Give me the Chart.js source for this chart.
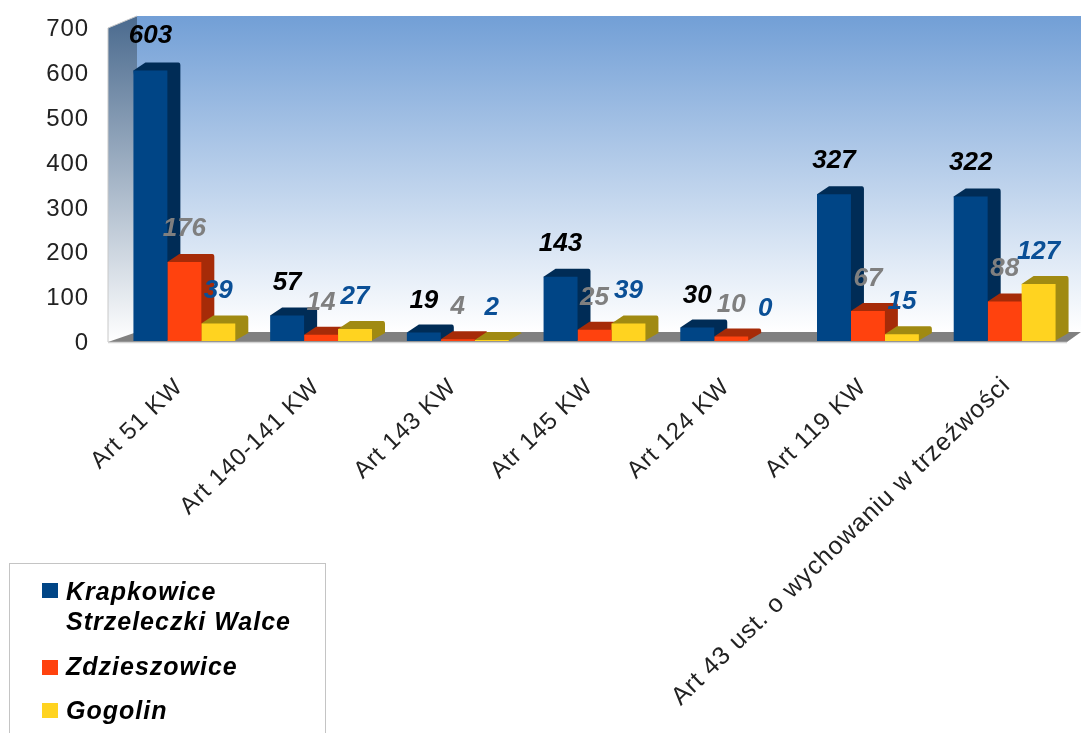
<!DOCTYPE html>
<html><head><meta charset="utf-8">
<style>html,body{margin:0;padding:0;background:#fff;overflow:hidden}canvas{display:block;filter:blur(0.45px)}</style>
<script src="https://cdn.jsdelivr.net/npm/chart.js@4"></script>
</head><body><canvas id="c" width="1081" height="733"></canvas>
<script>
const categories = ['Art 51 KW','Art 140-141 KW','Art 143 KW','Atr 145 KW','Art 124 KW','Art 119 KW','Art 43 ust. o wychowaniu w trzeźwości'];
const krapkowice = [603,57,19,143,30,327,322];
const zdzieszowice = [176,14,4,25,10,67,88];
const gogolin = [39,27,2,39,0,15,127];
const seriesNames = ['Krapkowice Strzeleczki Walce','Zdzieszowice','Gogolin'];
const legendLines = [['Krapkowice','Strzeleczki Walce'],['Zdzieszowice'],['Gogolin']];
const frontColors = ['#004586','#ff420e','#ffd320'];
const sideColors = ['#002c56','#a62b08','#a08a12'];
const labelColors = ['#000000','#7f7f7f','#0a4f96'];
const DX = 14, DY = 8;

const scene = {
  id:'scene',
  afterLayout(chart){
    const y = chart.scales.y;
    y.top = 27; y.bottom = 341; y.height = 314; y.configure();
    chart.chartArea.top = 27; chart.chartArea.height = 314;
  },
  beforeDraw(chart){
    chart.ctx.letterSpacing='0.9px';
    if(!chart.$moved){
      chart.$moved = true;
      const it = chart.scales.x.getLabelItems(chart.chartArea);
      it[6].options.translation[0] += 7;
      it[6].options.translation[1] -= 2;
      chart.scales.y.getLabelItems(chart.chartArea).forEach(t=>{ t.options.translation[1] += 2.5; });
    }
  },
  beforeDatasetsDraw(chart){
    const c = chart.ctx, a = chart.chartArea;
    const fl = 108, fr = 1067, fb = a.bottom + 1, bl = 137, br = 1081, bb = a.bottom - 9, bt = 16;
    c.save();
    let g = c.createLinearGradient(0,bt,0,bb);
    g.addColorStop(0,'#729fd6'); g.addColorStop(1,'#ffffff');
    c.fillStyle = g; c.fillRect(bl,bt,br-bl,bb-bt);
    g = c.createLinearGradient(0,bt,0,fb);
    g.addColorStop(0,'#4a6a8e'); g.addColorStop(1,'#ffffff');
    c.fillStyle = g;
    c.beginPath(); c.moveTo(fl,bt+12); c.lineTo(bl,bt); c.lineTo(bl,bb); c.lineTo(fl,fb); c.closePath(); c.fill();
    c.strokeStyle='#c8c8c8'; c.lineWidth=1;
    c.beginPath(); c.moveTo(fl,fb); c.lineTo(fl,bt+12); c.lineTo(bl,bt); c.stroke();
    c.fillStyle='#808080';
    c.beginPath(); c.moveTo(fl,fb); c.lineTo(bl,bb); c.lineTo(br,bb); c.lineTo(fr,fb); c.closePath(); c.fill();
    c.strokeStyle='#d4d4d4'; c.lineWidth=1.5;
    c.beginPath(); c.moveTo(fl,fb+.5); c.lineTo(fr,fb+.5); c.stroke();
    // depth faces of each bar, taken from the library's bar elements
    chart.data.datasets.forEach((ds,i)=>{
      chart.getDatasetMeta(i).data.forEach((bar,j)=>{
        if(ds.data[j]===0) return;
        const l = bar.x - bar.width/2, r = bar.x + bar.width/2 - 1, t = bar.y, b = bar.base;
        c.fillStyle = sideColors[i];
        c.beginPath();
        c.moveTo(l,t); c.lineTo(l+DX-2,t-DY); c.lineTo(r+DX-2,t-DY);
        c.quadraticCurveTo(r+DX,t-DY,r+DX,t-DY+3);
        c.lineTo(r+DX,b-DY); c.lineTo(r,b); c.closePath(); c.fill();
      });
    });
    c.restore();
  },
  afterDatasetsDraw(chart){
    const c = chart.ctx;
    c.save();
    c.letterSpacing='0px';
    c.font = 'italic bold 26px "Liberation Sans"';
    c.textAlign='center'; c.textBaseline='middle';
    chart.data.datasets.forEach((ds,i)=>{
      chart.getDatasetMeta(i).data.forEach((bar,j)=>{
        c.fillStyle = labelColors[i];
        c.fillText(String(ds.data[j]), bar.x, bar.y-32-ds.data[j]*0.005);
      });
    });
    // legend
    c.strokeStyle='#c4c4c4'; c.lineWidth=1; c.fillStyle='#fff';
    c.fillRect(9.5,563.5,316,180); c.strokeRect(9.5,563.5,316,180);
    const rows=[[600,630],[675],[719]], box=[583,660,703];
    c.textAlign='left'; c.textBaseline='alphabetic'; c.font='italic bold 25px "Liberation Sans"';
    c.letterSpacing='1px';
    legendLines.forEach((lines,i)=>{
      c.fillStyle=frontColors[i]; c.fillRect(42,box[i],16,15);
      c.fillStyle='#000';
      lines.forEach((t,k)=>c.fillText(t,66,rows[i][k]));
    });
    c.restore();
  }
};

const mk=(name,data,i)=>({label:name,data,backgroundColor:frontColors[i],borderWidth:0,categoryPercentage:0.745,barPercentage:1});
new Chart(document.getElementById('c'),{
  type:'bar',
  data:{labels:categories,datasets:[mk(seriesNames[0],krapkowice,0),mk(seriesNames[1],zdzieszowice,1),mk(seriesNames[2],gogolin,2)]},
  plugins:[scene],
  options:{
    responsive:false,animation:false,devicePixelRatio:1,
    layout:{padding:{top:14,right:8,left:0,bottom:0}},
    plugins:{legend:{display:false},tooltip:{enabled:false},title:{display:false}},
    scales:{
      y:{min:0,max:700,ticks:{stepSize:100,padding:27,color:'#222',font:{family:'"Liberation Sans"',size:24}},
         grid:{display:false,drawTicks:false},border:{display:false},
         afterFit(s){s.width=116;}},
      x:{grid:{display:false,drawTicks:false},border:{display:false},
         ticks:{autoSkip:false,maxRotation:44,minRotation:44,padding:32,labelOffset:-5,color:'#222',
           font:c=>({family:'"Liberation Sans"',size:c.index===6?25:24})},
         afterFit(s){s.height=392;}}
    }
  }
});
</script></body></html>
